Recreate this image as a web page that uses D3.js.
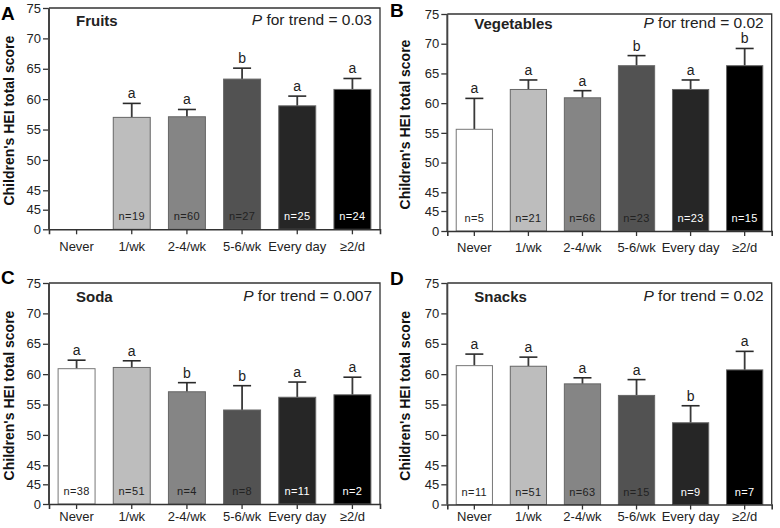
<!DOCTYPE html>
<html>
<head>
<meta charset="utf-8">
<script src="https://cdn.jsdelivr.net/npm/d3@7"></script>
<style>
  html, body { margin: 0; padding: 0; background: #fff; }
  svg { display: block; font-family: Arial, "Liberation Sans", sans-serif; }
</style>
</head>
<body>
<svg id="chart" width="780" height="528"></svg>
<script>
// ---------- data ----------
const categories = ["Never", "1/wk", "2-4/wk", "5-6/wk", "Every day", "\u22652/d"];
const upperTicks = [45, 50, 55, 60, 65, 70, 75];
const lowerTicks = [0, 45];

const fruitsMean = [null, 57.0, 57.1, 63.3, 58.9, 61.6];
const fruitsErr = [null, 59.3, 58.3, 65.1, 60.5, 63.4];
const fruitsN = [null, 19, 60, 27, 25, 24];
const fruitsLetters = [null, "a", "a", "b", "a", "a"];

const vegMean = [55.6, 62.3, 60.9, 66.3, 62.3, 66.3];
const vegErr = [60.8, 63.9, 62.1, 68.0, 63.9, 69.2];
const vegN = [5, 21, 66, 23, 23, 15];
const vegLetters = ["a", "a", "a", "b", "a", "b"];

const sodaMean = [60.9, 61.1, 57.1, 54.1, 56.2, 56.6];
const sodaErr = [62.3, 62.2, 58.6, 58.1, 58.7, 59.5];
const sodaN = [38, 51, 4, 8, 11, 2];
const sodaLetters = ["a", "a", "b", "b", "a", "a"];

const snackMean = [61.4, 61.3, 58.4, 56.5, 52.0, 60.7];
const snackErr = [63.3, 62.8, 59.4, 59.1, 54.8, 63.75];
const snackN = [11, 51, 63, 15, 9, 7];
const snackLetters = ["a", "a", "a", "a", "b", "a"];

const barColors = ["#ffffff", "#bdbdbd", "#858585", "#525252", "#262626", "#000000"];
const nColors = ["#222", "#222", "#222", "#222", "#fff", "#fff"];

const panels = [
  { letter: "A", title: "Fruits", p: "0.03", mean: fruitsMean, err: fruitsErr, n: fruitsN, sig: fruitsLetters,
    x0: 49, x1: 380, top: 8, up45: 190.3, low45: 209.7, bottom: 229.3, letterX: 1, letterY: 20, ytX: 14,
    titleY: 26, xPad: 7.5 },
  { letter: "B", title: "Vegetables", p: "0.02", mean: vegMean, err: vegErr, n: vegN, sig: vegLetters,
    x0: 447.3, x1: 771.7, top: 14, up45: 192.3, low45: 211, bottom: 231, letterX: 390, letterY: 17, ytX: 410,
    titleY: 29, xPad: 7 },
  { letter: "C", title: "Soda", p: "0.007", mean: sodaMean, err: sodaErr, n: sodaN, sig: sodaLetters,
    x0: 49, x1: 380, top: 283, up45: 465.3, low45: 484.3, bottom: 504, letterX: 1, letterY: 284, ytX: 14,
    titleY: 301.5, xPad: 2.5 },
  { letter: "D", title: "Snacks", p: "0.02", mean: snackMean, err: snackErr, n: snackN, sig: snackLetters,
    x0: 447.3, x1: 771.7, top: 283, up45: 465.3, low45: 484.3, bottom: 504.5, letterX: 390, letterY: 285, ytX: 410,
    titleY: 301.5, xPad: 2 }
];

const svg = d3.select("#chart");
const axisColor = "#333";
const textColor = "#222";

panels.forEach(P => {
  const g = svg.append("g");
  const x = d3.scaleBand().domain(categories).range([P.x0, P.x1]).paddingInner(0.33).paddingOuter(0.165);
  const yU = d3.scaleLinear().domain([45, 75]).range([P.up45, P.top]);
  const yL = d3.scaleLinear().domain([0, 45]).range([P.bottom, P.low45]);

  categories.forEach((c, i) => {
    const v = P.mean[i];
    if (v == null) return;
    const bx = x(c), bw = x.bandwidth();
    const cx = bx + bw / 2;
    const ey = yU(P.err[i]);
    g.append("line").attr("x1", cx).attr("x2", cx).attr("y1", yU(v)).attr("y2", ey)
      .attr("stroke", "#3a3a3a").attr("stroke-width", 1.8);
    g.append("line").attr("x1", cx - 9).attr("x2", cx + 9).attr("y1", ey).attr("y2", ey)
      .attr("stroke", "#2a2a2a").attr("stroke-width", 1.6);
    g.append("rect").attr("x", bx).attr("y", yU(v)).attr("width", bw).attr("height", P.bottom - yU(v))
      .attr("fill", barColors[i]).attr("stroke", i === 0 ? "#777" : "#666").attr("stroke-width", 1);
    g.append("text").attr("x", cx).attr("y", ey - 5).attr("text-anchor", "middle")
      .attr("font-size", 14).attr("fill", textColor).text(P.sig[i]);
    g.append("text").attr("x", cx).attr("y", P.bottom - 9).attr("text-anchor", "middle")
      .attr("font-size", 11).attr("letter-spacing", 0.4).attr("fill", nColors[i]).text("n=" + P.n[i]);
  });

  g.append("path").attr("d", `M${P.x0},${P.top}H${P.x1}V${P.bottom}`)
    .attr("fill", "none").attr("stroke", axisColor).attr("stroke-width", 1.3);

  const xAxis = d3.axisBottom(x).tickSizeOuter(0).tickSize(5).tickPadding(P.xPad);
  const gx = g.append("g").attr("transform", `translate(0,${P.bottom})`).call(xAxis);
  gx.select(".domain").attr("stroke", axisColor).attr("stroke-width", 1.6);
  gx.selectAll(".tick line").attr("stroke", axisColor).attr("stroke-width", 1.3);
  gx.selectAll(".tick text").attr("font-size", 13).attr("fill", textColor)
    .attr("font-family", "Arial, 'Liberation Sans', sans-serif");

  const gyU = g.append("g").attr("transform", `translate(${P.x0},0)`)
    .call(d3.axisLeft(yU).tickValues(upperTicks).tickSize(6).tickPadding(2).tickSizeOuter(0));
  const gyL = g.append("g").attr("transform", `translate(${P.x0},0)`)
    .call(d3.axisLeft(yL).tickValues(lowerTicks).tickSize(6).tickPadding(2).tickSizeOuter(0));
  [gyU, gyL].forEach(ga => {
    ga.select(".domain").remove();
    ga.selectAll(".tick line").attr("stroke", axisColor).attr("stroke-width", 1.3);
    ga.selectAll(".tick text").attr("font-size", 13).attr("fill", textColor)
      .attr("font-family", "Arial, 'Liberation Sans', sans-serif");
  });
  g.append("line").attr("x1", P.x0).attr("x2", P.x0).attr("y1", P.top).attr("y2", P.bottom)
    .attr("stroke", "#444").attr("stroke-width", 2);

  g.append("text").attr("x", P.x0 + 27).attr("y", P.titleY)
    .attr("font-size", 15).attr("font-weight", "bold").attr("fill", textColor).text(P.title);
  const pt = g.append("text").attr("x", P.x1 - 8).attr("y", P.titleY - 1).attr("text-anchor", "end")
    .attr("font-size", 15.5).attr("fill", textColor);
  pt.append("tspan").attr("font-style", "italic").text("P");
  pt.append("tspan").text(" for trend = " + P.p);

  g.append("text").attr("x", P.letterX).attr("y", P.letterY)
    .attr("font-size", 19).attr("font-weight", "bold").attr("fill", "#000").text(P.letter);

  const cy = (P.top + P.bottom) / 2 + 2;
  g.append("text").attr("transform", `translate(${P.ytX},${cy}) rotate(-90)`)
    .attr("text-anchor", "middle").attr("font-size", 14).attr("font-weight", "bold")
    .attr("fill", "#111").text("Children's HEI total score");
});
</script>
</body>
</html>
